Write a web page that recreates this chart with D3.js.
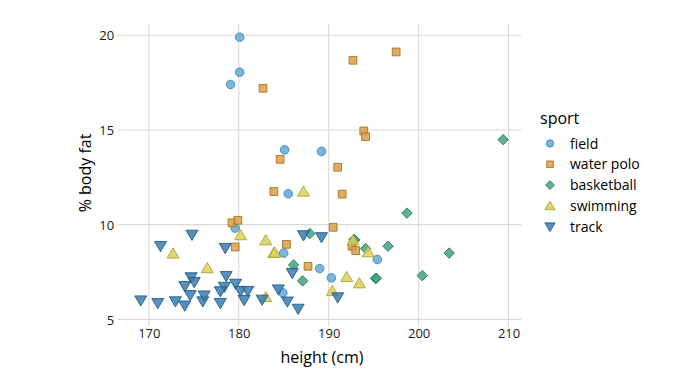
<!DOCTYPE html>
<html>
<head>
<meta charset="utf-8">
<script src="https://cdn.jsdelivr.net/npm/d3@7/dist/d3.min.js"></script>
<style>
  html, body { margin: 0; padding: 0; background: #fff; }
  svg text { font-family: "Open Sans", "Noto Sans", sans-serif; }
</style>
</head>
<body>
<svg id="chart" width="699" height="378"></svg>
<script>
// ---- data (height cm, % body fat) ----
const sports = ["field", "water polo", "basketball", "swimming", "track"];

const fieldPts = [[180.1,19.9],[180.1,18.05],[179.1,17.4],[185.1,13.95],[189.2,13.87],[185.5,11.63],
  [179.6,9.82],[185.0,8.5],[189.0,7.68],[190.3,7.19],[195.4,8.16],[184.9,6.4]];

const waterPoloPts = [[182.7,17.2],[184.6,13.45],[192.7,18.68],[197.5,19.12],[193.9,14.95],[194.1,14.65],
  [191.0,13.03],[183.9,11.75],[191.5,11.61],[190.5,9.86],[185.3,8.96],[192.6,8.86],[193.0,8.63],
  [179.25,10.1],[179.9,10.23],[179.6,8.82],[187.7,7.8]];

const basketballPts = [[209.4,14.49],[198.7,10.61],[192.8,9.21],[192.9,9.19],[194.1,8.74],[196.6,8.86],
  [203.4,8.5],[200.4,7.31],[195.2,7.16],[195.3,7.17],[187.9,9.53],[186.1,7.87],[187.1,7.03]];

const swimmingPts = [[187.2,11.74],[180.2,9.44],[183.0,9.17],[172.7,8.47],[176.5,7.7],[183.9,8.5],
  [184.0,8.52],[183.0,6.17],[190.4,6.49],[192.7,9.17],[194.4,8.54],[192.0,7.23],[193.4,6.9]];

const trackPts = [[174.8,9.47],[171.3,8.87],[178.5,8.77],[187.2,9.44],[189.2,9.34],[174.7,7.22],
  [175.05,6.97],[174.0,6.76],[174.6,6.28],[178.6,7.29],[178.4,6.72],[177.95,6.48],[179.65,6.88],
  [180.2,6.5],[181.0,6.5],[180.6,6.02],[169.1,6.0],[171.0,5.86],[172.95,5.95],[174.0,5.73],
  [176.0,5.95],[176.15,6.26],[177.95,5.86],[182.6,6.04],[184.4,6.58],[185.4,5.94],[186.6,5.56],
  [185.95,7.45],[191.0,6.16]];

const xTicks = [170, 180, 190, 200, 210];
const yTicks = [5, 10, 15, 20];

// ---- styles ----
const fills   = ["#62a8d6", "#d9a049", "#44a380", "#ddd159", "#3a7db0"];
const strokes = ["#3c89bb", "#a8741c", "#23795a", "#ada234", "#1f5d8c"];

const seriesPts = [fieldPts, waterPoloPts, basketballPts, swimmingPts, trackPts];
const data = [];
seriesPts.forEach((pts, i) => pts.forEach(p => data.push({h: p[0], bf: p[1], sport: sports[i]})));

const svg = d3.select("#chart");
const pLeft = 122.6, pRight = 521.3, pTop = 23.6, pBottom = 322.3;

function expand(ext) { const r = ext[1] - ext[0]; return [ext[0] - 0.05 * r, ext[1] + 0.05 * r]; }
const x = d3.scaleLinear().domain(expand(d3.extent(data, d => d.h))).range([pLeft, pRight]);
const y = d3.scaleLinear().domain(expand(d3.extent(data, d => d.bf))).range([pBottom, pTop]);

const color = d3.scaleOrdinal().domain(sports).range(fills);
const scolor = d3.scaleOrdinal().domain(sports).range(strokes);

// shapes
function shapePath(sport, s) {
  const k = s || 1;
  switch (sport) {
    case "field": return d3.symbol(d3.symbolCircle, 58 * k * k)();
    case "water polo": return d3.symbol(d3.symbolSquare, 60 * k * k)();
    case "basketball": { const r = 5.2 * k; return `M0,${-r}L${r},0L0,${r}L${-r},0Z`; }
    case "swimming": { const a = 6 * k; return `M0,${-a * 0.95}L${a},${a * 0.75}L${-a},${a * 0.75}Z`; }
    case "track": { const a = 6 * k; return `M0,${a * 0.95}L${a},${-a * 0.75}L${-a},${-a * 0.75}Z`; }
  }
}

const grid = "#d9d9d9";
// grid lines
svg.append("g").selectAll("line").data(xTicks).join("line")
  .attr("x1", d => x(d)).attr("x2", d => x(d)).attr("y1", pTop).attr("y2", pBottom + 4)
  .attr("stroke", grid).attr("stroke-width", 1.1);
svg.append("g").selectAll("line").data(yTicks).join("line")
  .attr("y1", d => y(d)).attr("y2", d => y(d)).attr("x1", pLeft - 4.5).attr("x2", pRight)
  .attr("stroke", grid).attr("stroke-width", 1.1);

// axes labels via d3 axes (no domain, no ticks)
const xAxis = svg.append("g").attr("transform", `translate(0,${pBottom + 4})`)
  .call(d3.axisBottom(x).tickValues(xTicks).tickSize(0).tickPadding(2));
const yAxis = svg.append("g").attr("transform", `translate(${pLeft - 4.5},0)`)
  .call(d3.axisLeft(y).tickValues(yTicks).tickSize(0).tickPadding(4));
[xAxis, yAxis].forEach(a => {
  a.select(".domain").remove();
  a.selectAll("text").attr("font-size", 13).attr("fill", "#1a1a1a")
    .attr("font-family", "'Open Sans', sans-serif");
});
yAxis.selectAll("text").attr("dy", "0.36em");

// axis titles
svg.append("text").attr("x", (pLeft + pRight) / 2).attr("y", 363).attr("text-anchor", "middle")
  .attr("font-size", 16).attr("fill", "#000").text("height (cm)");
svg.append("text").attr("transform", `translate(91,${(pTop + pBottom) / 2}) rotate(-90)`)
  .attr("text-anchor", "middle").attr("font-size", 16).attr("fill", "#000").text("% body fat");

// points
svg.append("g").selectAll("path").data(data).join("path")
  .attr("transform", d => `translate(${x(d.h)},${y(d.bf)})`)
  .attr("d", d => shapePath(d.sport))
  .attr("fill", d => color(d.sport)).attr("fill-opacity", 0.85)
  .attr("stroke", d => scolor(d.sport)).attr("stroke-width", 0.9);

// legend
const lg = svg.append("g").attr("transform", "translate(540,0)");
lg.append("text").attr("x", 0).attr("y", 124).attr("font-size", 16).attr("fill", "#000").text("sport");
const items = lg.selectAll("g.item").data(sports).join("g")
  .attr("transform", (d, i) => `translate(0,${143.5 + i * 20.8})`);
items.append("path").attr("transform", "translate(10,0)")
  .attr("d", d => shapePath(d, 0.85))
  .attr("fill", d => color(d)).attr("fill-opacity", 0.85)
  .attr("stroke", d => scolor(d)).attr("stroke-width", 0.9);
items.append("text").attr("x", 30).attr("y", 0).attr("dy", "0.36em")
  .attr("font-size", 14).attr("fill", "#000").text(d => d);
</script>
</body>
</html>
